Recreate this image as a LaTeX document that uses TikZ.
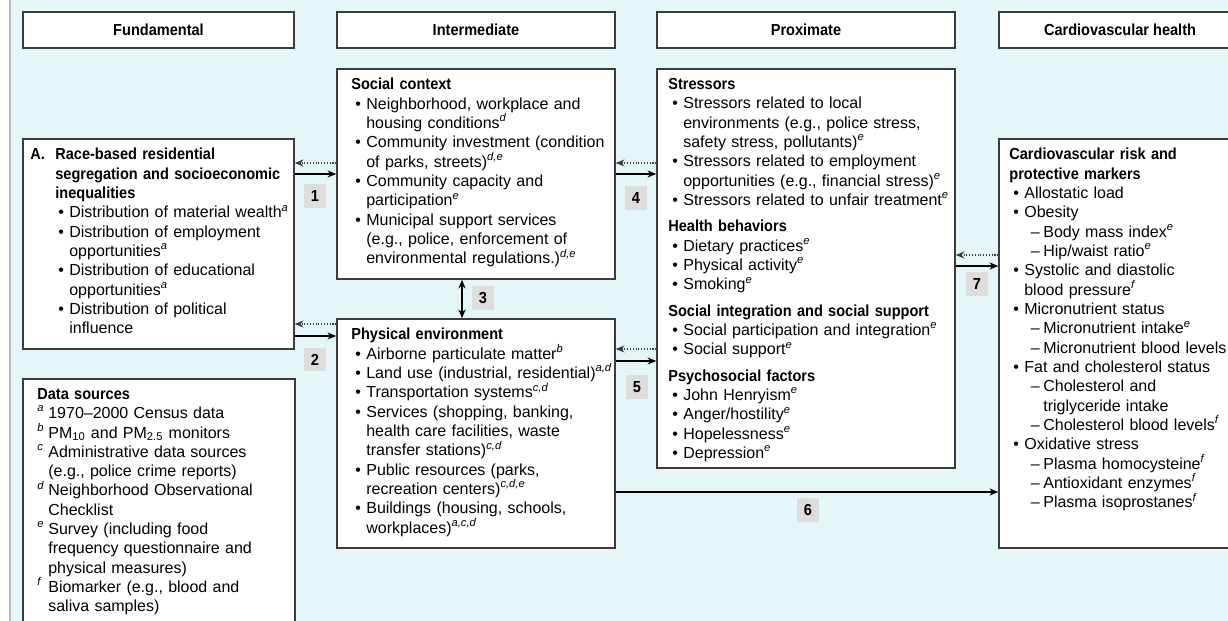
\documentclass[tikz,border=0pt]{standalone}
\usepackage{fontspec}
\setmainfont{Liberation Sans}[BoldFeatures={FakeStretch=0.91}]
\usepackage{xcolor}
\usepackage{tikz}
\usetikzlibrary{shapes,arrows.meta,positioning,calc}

\definecolor{bgcyan}{RGB}{229,246,248}
\definecolor{labgray}{RGB}{221,221,221}
\definecolor{edgegray}{RGB}{60,60,60}
\definecolor{railgray}{RGB}{185,185,185}

\newcommand{\bodyfont}{\fontsize{9.1pt}{11pt}\selectfont}
\newcommand{\sps}[1]{\textsuperscript{\itshape #1}}
\newcommand{\bul}[1]{\par\noindent\hangindent=0.3cm\hangafter=1\hspace*{0.08cm}\makebox[0.22cm][l]{\textbullet}#1}
\newcommand{\dsh}[1]{\par\noindent\hangindent=0.68cm\hangafter=1\hspace*{0.43cm}\makebox[0.25cm][l]{--}#1}
\newcommand{\src}[2]{\par\noindent\hangindent=0.22cm\hangafter=1\makebox[0.22cm][l]{\sps{#1}}#2}
\newcommand{\sect}[1]{\par\vspace{4pt}\noindent\textbf{#1}}

\begin{document}
\begin{tikzpicture}[x=0.02cm, y=-0.02cm, every node/.style={font=\bodyfont}]
  % Styles for the framework
  \tikzstyle{header} = [rectangle, draw=edgegray, line width=0.8pt, fill=white, minimum height=0.72cm, font=\bodyfont\bfseries]
  \tikzstyle{panel} = [rectangle, draw=edgegray, line width=0.8pt, fill=white]
  \tikzstyle{txt} = [anchor=north west, inner sep=0pt, text width=7cm, align=left, font=\bodyfont]
  \tikzstyle{numlab} = [rectangle, fill=labgray, minimum width=0.44cm, minimum height=0.48cm, inner sep=0pt, font=\bodyfont\bfseries]
  \tikzstyle{solarr} = [draw=black, line width=0.7pt, -{Stealth[length=5pt,width=4pt]}]
  \tikzstyle{dotarr} = [draw=edgegray, line width=0.6pt, densely dotted, -{Stealth[length=5pt,width=4pt]}]
  \tikzstyle{dblarr} = [draw=black, line width=0.9pt, {Stealth[length=5pt,width=4pt]}-{Stealth[length=5pt,width=4pt]}]

  % Canvas
  \useasboundingbox (0,0) rectangle (1228,621);
  \clip (0,0) rectangle (1228,621);
  \fill[white] (0,0) rectangle (1228,621);
  \fill[bgcyan] (11,0) rectangle (1228,621);
  \draw[railgray, line width=1.2pt] (10,0) -- (10,621);

  % Column headers
  \node[header, minimum width=5.42cm] (hfund) at (158.5,30) {Fundamental};
  \node[header, minimum width=5.56cm] (hinter) at (476,30) {Intermediate};
  \node[header, minimum width=5.96cm] (hprox) at (806,30) {Proximate};
  \node[header, minimum width=4.84cm] (hcardio) at (1120,30) {Cardiovascular health};

  % Fundamental column
  \node[panel, minimum width=5.42cm, minimum height=4.2cm] (boxA) at (158.5,244) {};
  \node[txt] (boxAtxt) at (30,148) {\noindent\hangindent=0.5cm\hangafter=1\makebox[0.5cm][l]{\textbf{A.}}\textbf{Race-based residential\newline segregation and socioeconomic\newline inequalities}\par
    {\leftskip=0.48cm
    \bul{Distribution of material wealth\sps{a}}
    \bul{Distribution of employment\newline opportunities\sps{a}}
    \bul{Distribution of educational\newline opportunities\sps{a}}
    \bul{Distribution of political\newline influence}\par}};

  \node[panel, minimum width=5.44cm, minimum height=5.32cm] (datasrc) at (159,512) {};
  \node[txt] (datatxt) at (37,388) {\textbf{Data sources}
    \src{a}{1970--2000 Census data}
    \src{b}{PM\textsubscript{10} and PM\textsubscript{2.5} monitors}
    \src{c}{Administrative data sources\newline (e.g., police crime reports)}
    \src{d}{Neighborhood Observational\newline Checklist}
    \src{e}{Survey (including food\newline frequency questionnaire and\newline physical measures)}
    \src{f}{Biomarker (e.g., blood and\newline saliva samples)}\par};

  % Intermediate column
  \node[panel, minimum width=5.56cm, minimum height=4.2cm] (social) at (476,174) {};
  \node[txt] (socialtxt) at (351,78) {\textbf{Social context}
    \bul{Neighborhood, workplace and\newline housing conditions\sps{d}}
    \bul{Community investment (condition\newline of parks, streets)\sps{d,e}}
    \bul{Community capacity and\newline participation\sps{e}}
    \bul{Municipal support services\newline (e.g., police, enforcement of\newline environmental regulations.)\sps{d,e}}\par};

  \node[panel, minimum width=5.56cm, minimum height=4.58cm] (physical) at (476,433.5) {};
  \node[txt] (physicaltxt) at (351,328) {\textbf{Physical environment}
    \bul{Airborne particulate matter\sps{b}}
    \bul{Land use (industrial, residential)\sps{a,d}}
    \bul{Transportation systems\sps{c,d}}
    \bul{Services (shopping, banking,\newline health care facilities, waste\newline transfer stations)\sps{c,d}}
    \bul{Public resources (parks,\newline recreation centers)\sps{c,d,e}}
    \bul{Buildings (housing, schools,\newline workplaces)\sps{a,c,d}}\par};

  % Proximate column
  \node[panel, minimum width=5.96cm, minimum height=7.98cm] (stressors) at (806,268.5) {};
  \node[txt] (stressorstxt) at (668,78) {\textbf{Stressors}
    \bul{Stressors related to local\newline environments (e.g., police stress,\newline safety stress, pollutants)\sps{e}}
    \bul{Stressors related to employment\newline opportunities (e.g., financial stress)\sps{e}}
    \bul{Stressors related to unfair treatment\sps{e}}
    \sect{Health behaviors}
    \bul{Dietary practices\sps{e}}
    \bul{Physical activity\sps{e}}
    \bul{Smoking\sps{e}}
    \sect{Social integration and social support}
    \bul{Social participation and integration\sps{e}}
    \bul{Social support\sps{e}}
    \sect{Psychosocial factors}
    \bul{John Henryism\sps{e}}
    \bul{Anger/hostility\sps{e}}
    \bul{Hopelessness\sps{e}}
    \bul{Depression\sps{e}}\par};

  % Cardiovascular health column
  \node[panel, minimum width=4.92cm, minimum height=8.18cm] (cardio) at (1122,343.5) {};
  \node[txt] (cardiotxt) at (1009,148) {\textbf{Cardiovascular risk and\newline protective markers}
    \bul{Allostatic load}
    \bul{Obesity}
    \dsh{Body mass index\sps{e}}
    \dsh{Hip/waist ratio\sps{e}}
    \bul{Systolic and diastolic\newline blood pressure\sps{f}}
    \bul{Micronutrient status}
    \dsh{Micronutrient intake\sps{e}}
    \dsh{Micronutrient blood levels}
    \bul{Fat and cholesterol status}
    \dsh{Cholesterol and\newline triglyceride intake}
    \dsh{Cholesterol blood levels\sps{f}}
    \bul{Oxidative stress}
    \dsh{Plasma homocysteine\sps{f}}
    \dsh{Antioxidant enzymes\sps{f}}
    \dsh{Plasma isoprostanes\sps{f}}\par};

  % Pathways
  \draw[dotarr] (social.west |- 0,163) -- (boxA.east |- 0,163);
  \draw[solarr] (boxA.east |- 0,174) -- (social.west |- 0,174);
  \draw[dotarr] (physical.west |- 0,324) -- (boxA.east |- 0,324);
  \draw[solarr] (boxA.east |- 0,336) -- (physical.west |- 0,336);
  \draw[dblarr] (social.south -| 462,0) -- (physical.north -| 462,0);
  \draw[dotarr] (stressors.west |- 0,163) -- (social.east |- 0,163);
  \draw[solarr] (social.east |- 0,174) -- (stressors.west |- 0,174);
  \draw[dotarr] (stressors.west |- 0,349) -- (physical.east |- 0,349);
  \draw[solarr] (physical.east |- 0,361) -- (stressors.west |- 0,361);
  \draw[solarr] (physical.east |- 0,492) -- (cardio.west |- 0,492);
  \draw[dotarr] (cardio.west |- 0,255) -- (stressors.east |- 0,255);
  \draw[solarr] (stressors.east |- 0,266) -- (cardio.west |- 0,266);

  % Pathway numbers
  \node[numlab] (n1) at (315,196.5) {1};
  \node[numlab] (n2) at (315,359.5) {2};
  \node[numlab] (n3) at (483,298) {3};
  \node[numlab] (n4) at (636,198) {4};
  \node[numlab] (n5) at (637,387) {5};
  \node[numlab] (n6) at (808,510) {6};
  \node[numlab] (n7) at (977,284) {7};

\end{tikzpicture}
\end{document}
